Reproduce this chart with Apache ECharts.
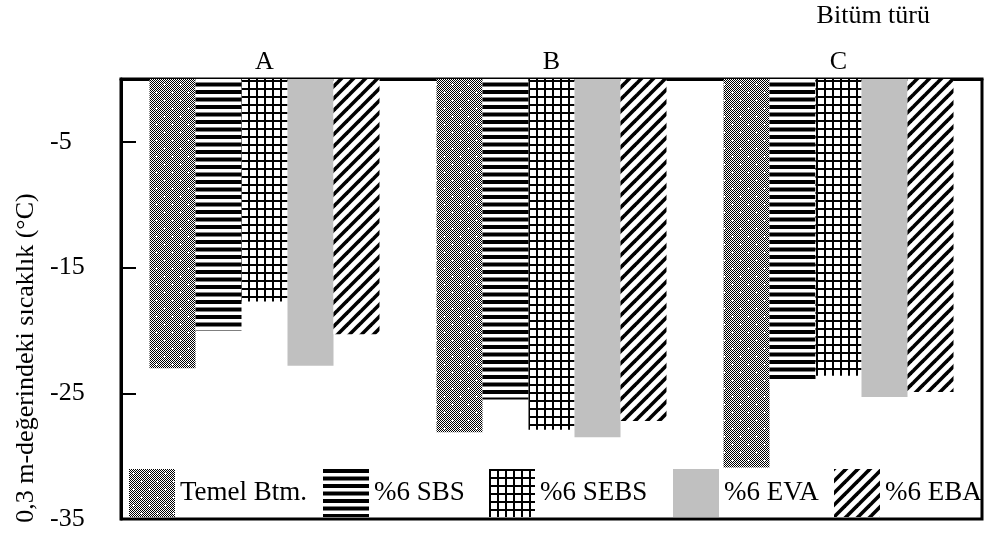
<!DOCTYPE html>
<html>
<head>
<meta charset="utf-8">
<script src="https://cdn.jsdelivr.net/npm/echarts@6/dist/echarts.min.js"></script>
<style>html,body{margin:0;padding:0;background:#fff;}#c{width:985px;height:534px;}</style>
</head>
<body>
<div id="c"></div>
<script>
var categories = ['A', 'B', 'C'];
var seriesNames = ['Temel Btm.', '%6 SBS', '%6 SEBS', '%6 EVA', '%6 EBA'];
var temelBtm = [-23.0, -28.1, -30.9];
var sbs6 = [-20.0, -25.5, -24.1];
var sebs6 = [-17.7, -27.9, -23.6];
var eva6 = [-22.8, -28.5, -25.3];
var eba6 = [-20.3, -27.2, -24.9];
var yTicks = [-35, -25, -15, -5];

var FONT = "'Liberation Serif', 'Times New Roman', serif";

function mk(w, h, draw) {
  var c = document.createElement('canvas');
  c.width = w; c.height = h;
  var g = c.getContext('2d');
  g.fillStyle = '#fff'; g.fillRect(0, 0, w, h);
  draw(g, w, h);
  return { image: c, repeat: 'repeat' };
}
// Temel: checker grey with white crosses
var patTemel = mk(16, 16, function (g, w, h) {
  g.fillStyle = '#000';
  for (var y = 0; y < h; y++) for (var x = 0; x < w; x++) if ((x + y) % 2 === 0) g.fillRect(x, y, 1, 1);
  g.fillStyle = '#fff';
  [[4, 4], [12, 12]].forEach(function (p) {
    g.fillRect(p[0] - 1, p[1], 3, 1);
    g.fillRect(p[0], p[1] - 1, 1, 3);
  });
});
// SBS: horizontal stripes
var patSBS = mk(4, 15, function (g) {
  g.fillStyle = '#000';
  g.fillRect(0, 0, 4, 4);
  g.fillRect(0, 7.5, 4, 4);
});
// SEBS: grid
var patSEBS = mk(8, 8, function (g) {
  g.fillStyle = '#000';
  g.fillRect(0, 0, 2, 8);
  g.fillRect(0, 0, 8, 2);
});
// EBA: diagonal stripes
var patEBA = mk(12, 12, function (g) {
  g.strokeStyle = '#000';
  g.lineWidth = 3.6;
  [0, 12, 24].forEach(function (c) {
    g.beginPath(); g.moveTo(-2, c + 2); g.lineTo(c + 2, -2); g.stroke();
  });
});
var colors = [patTemel, patSBS, patSEBS, '#c0c0c0', patEBA];
var values = [temelBtm, sbs6, sebs6, eva6, eba6];
var legendLefts = [129, 323, 489, 673, 834];

var chart = echarts.init(document.getElementById('c'), null, { renderer: 'canvas' });
var series = seriesNames.map(function (n, i) {
  return {
    name: n, type: 'bar', data: values[i], barWidth: 46, barGap: '0%',
    itemStyle: { color: colors[i] }, animation: false
  };
});
var legends = seriesNames.map(function (n, i) {
  return {
    data: [n], left: legendLefts[i], top: 469, padding: 0,
    itemWidth: 46, itemHeight: 48, icon: 'rect', selectedMode: false,
    textStyle: { fontFamily: FONT, fontSize: 27, color: '#000', padding: [20, 0, 0, 0] }
  };
});
chart.setOption({
  animation: false,
  grid: { left: 121, right: 3, top: 79, bottom: 15, show: true, borderColor: '#000', borderWidth: 3, containLabel: false },
  legend: legends,
  xAxis: {
    type: 'category', position: 'top', data: categories,
    axisLine: { show: true, lineStyle: { color: '#000', width: 3 } },
    axisTick: { show: false },
    axisLabel: { color: '#000', fontFamily: FONT, fontSize: 26, margin: 4 },
    name: 'Bitüm türü', nameLocation: 'end', nameGap: -52,
    nameTextStyle: { color: '#000', fontFamily: FONT, fontSize: 26, align: 'right', verticalAlign: 'bottom', padding: [0, 0, 50, 0] }
  },
  yAxis: {
    type: 'value', min: yTicks[0], max: 0, interval: 10,
    axisLine: { show: true, lineStyle: { color: '#000', width: 3 } },
    axisTick: { show: true, inside: true, length: 15, lineStyle: { color: '#000', width: 2 } },
    axisLabel: { color: '#000', fontFamily: FONT, fontSize: 26, align: 'left', margin: 71, showMaxLabel: false },
    splitLine: { show: false },
    name: '0,3 m-değerindeki sıcaklık (°C)', nameLocation: 'middle', nameGap: 76,
    nameTextStyle: { color: '#000', fontFamily: FONT, fontSize: 26, padding: [0, 118, 0, 0] }
  },
  series: series
});
</script>
</body>
</html>
